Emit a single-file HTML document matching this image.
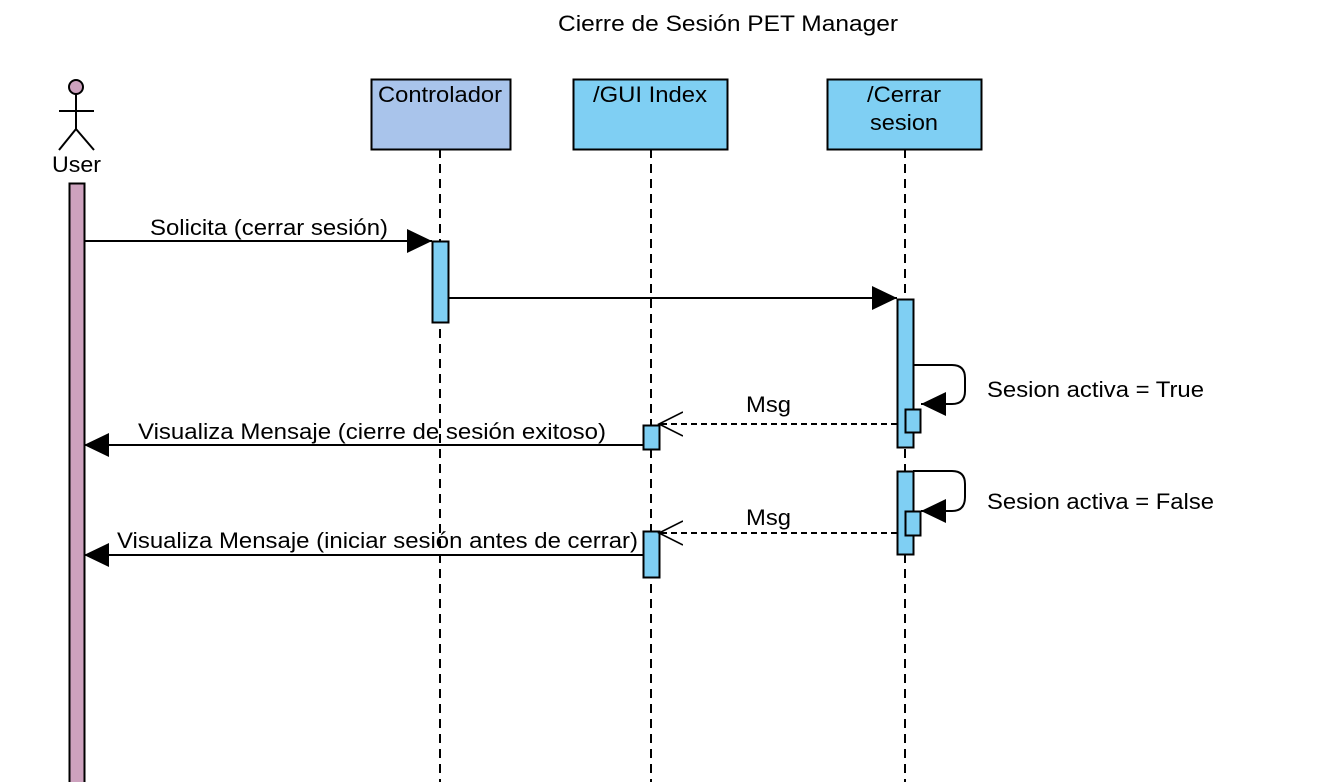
<!DOCTYPE html>
<html><head><meta charset="utf-8"><style>
body{margin:0;background:#fff;width:1324px;height:782px;overflow:hidden}
svg{display:block;font-family:"Liberation Sans",Helvetica,Arial,sans-serif}
</style></head><body>
<svg width="1324" height="782" viewBox="0 0 1324 782">
<defs>
<marker id="f" markerWidth="26" markerHeight="26" refX="25" refY="13" orient="auto" markerUnits="userSpaceOnUse"><path d="M0,1 L25,13 L0,25 Z" fill="#000"/></marker>
<marker id="o" markerWidth="26" markerHeight="26" refX="24" refY="13" orient="auto" markerUnits="userSpaceOnUse"><path d="M0,1 L24,13 L0,25" fill="none" stroke="#000" stroke-width="1.6"/></marker>
</defs>
<g font-size="22" lengthAdjust="spacingAndGlyphs">
<text x="558" y="31" textLength="340" lengthAdjust="spacingAndGlyphs">Cierre de  Sesión PET Manager</text>
</g>
<!-- actor -->
<g stroke="#000" stroke-width="2" fill="none">
<circle cx="76" cy="87" r="7" fill="#CDA2BE"/>
<line x1="76" y1="94" x2="76" y2="129"/>
<line x1="59" y1="111" x2="94" y2="111"/>
<line x1="76" y1="129" x2="59" y2="150"/>
<line x1="76" y1="129" x2="94" y2="150"/>
</g>
<text x="52" y="172" font-size="22" textLength="49" lengthAdjust="spacingAndGlyphs">User</text>
<rect x="69.5" y="183.5" width="15" height="610" fill="#CDA2BE" stroke="#000" stroke-width="2"/>
<!-- lifelines -->
<g stroke="#000" stroke-width="2" stroke-dasharray="9,6">
<line x1="440" y1="149" x2="440" y2="782"/>
<line x1="651" y1="149" x2="651" y2="782"/>
<line x1="905" y1="149" x2="905" y2="782"/>
</g>
<g stroke="#000" stroke-width="2">
<rect x="371.5" y="79.5" width="139" height="70" fill="#A9C4EB"/>
<rect x="573.5" y="79.5" width="154" height="70" fill="#7FCFF3"/>
<rect x="827.5" y="79.5" width="154" height="70" fill="#7FCFF3"/>
</g>
<g font-size="22">
<text x="378" y="102" textLength="124" lengthAdjust="spacingAndGlyphs">Controlador</text>
<text x="593" y="102" textLength="114" lengthAdjust="spacingAndGlyphs">/GUI Index</text>
<text x="867" y="102" textLength="74" lengthAdjust="spacingAndGlyphs">/Cerrar</text>
<text x="870" y="130" textLength="68" lengthAdjust="spacingAndGlyphs">sesion</text>
</g>
<!-- activations -->
<g stroke="#000" stroke-width="2" fill="#7FCFF3">
<rect x="432.5" y="241.5" width="16" height="81"/>
<rect x="897.5" y="299.5" width="16" height="148"/>
<rect x="897.5" y="471.5" width="16" height="83"/>
<rect x="643.5" y="425.5" width="16" height="24"/>
<rect x="643.5" y="531.5" width="16" height="46"/>
</g>
<!-- messages -->
<g stroke="#000" stroke-width="2" fill="none">
<line x1="84" y1="241" x2="432" y2="241" marker-end="url(#f)"/>
<line x1="449" y1="298" x2="897" y2="298" marker-end="url(#f)"/>
<path d="M913,365 H952 Q965,365 965,378 V391 Q965,404 952,404 H921" marker-end="url(#f)"/>
<path d="M913,471 H952 Q965,471 965,484 V497 Q965,511 952,511 H921" marker-end="url(#f)"/>
<line x1="897" y1="424" x2="659" y2="424" stroke-dasharray="6,4" marker-end="url(#o)"/>
<line x1="897" y1="533" x2="659" y2="533" stroke-dasharray="6,4" marker-end="url(#o)"/>
<line x1="643" y1="445" x2="84" y2="445" marker-end="url(#f)"/>
<line x1="643" y1="555" x2="84" y2="555" marker-end="url(#f)"/>
</g>
<g stroke="#000" stroke-width="2" fill="#7FCFF3">
<rect x="905.5" y="409.5" width="15" height="23"/>
<rect x="905.5" y="511.5" width="15" height="24"/>
</g>
<g font-size="22">
<text x="150" y="235" textLength="238" lengthAdjust="spacingAndGlyphs">Solicita (cerrar sesión)</text>
<text x="746" y="412" textLength="45" lengthAdjust="spacingAndGlyphs">Msg</text>
<text x="746" y="525" textLength="45" lengthAdjust="spacingAndGlyphs">Msg</text>
<text x="987" y="397" textLength="217" lengthAdjust="spacingAndGlyphs">Sesion activa = True</text>
<text x="987" y="509" textLength="227" lengthAdjust="spacingAndGlyphs">Sesion activa = False</text>
<text x="138" y="439" textLength="468" lengthAdjust="spacingAndGlyphs">Visualiza Mensaje (cierre de sesión exitoso)</text>
<text x="117" y="548" textLength="521" lengthAdjust="spacingAndGlyphs">Visualiza Mensaje (iniciar sesión antes de cerrar)</text>
</g>
</svg>
</body></html>
